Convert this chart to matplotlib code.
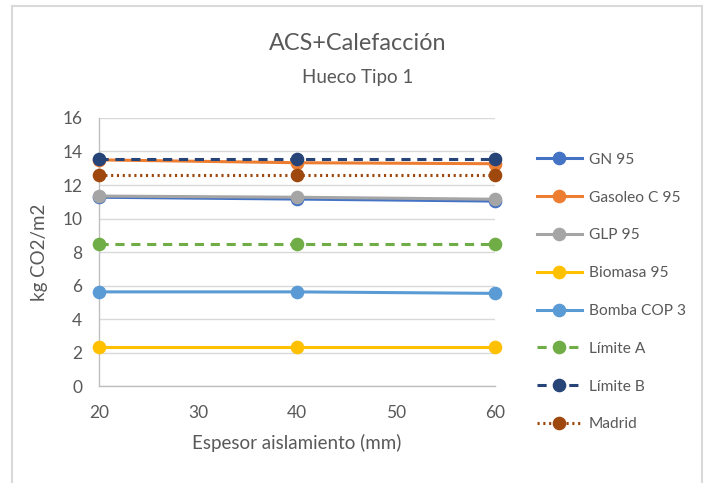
import matplotlib.pyplot as plt
from matplotlib.patches import Rectangle

# data
espesor = [20, 40, 60]
series_names = ["GN 95", "Gasoleo C 95", "GLP 95", "Biomasa 95", "Bomba COP 3",
                "Límite A", "Límite B", "Madrid"]
gn_95 = [11.27, 11.16, 11.04]
gasoleo_c_95 = [13.5, 13.33, 13.27]
glp_95 = [11.34, 11.27, 11.15]
biomasa_95 = [2.35, 2.35, 2.35]
bomba_cop_3 = [5.62, 5.62, 5.53]
limite_a = [8.5, 8.5, 8.5]
limite_b = [13.55, 13.55, 13.55]
madrid = [12.6, 12.6, 12.6]

values = [gn_95, gasoleo_c_95, glp_95, biomasa_95, bomba_cop_3, limite_a, limite_b, madrid]
colors = ["#4472C4", "#ED7D31", "#A5A5A5", "#FFC000", "#5B9BD5", "#70AD47", "#264478", "#9E480E"]
styles = ["-", "-", "-", "-", "-", (0, (3, 2.2)), (0, (3, 2.2)), (0, (0.7, 1.2))]

plt.rcParams['font.family'] = ['Lato', 'DejaVu Sans']
text_col = "#595959"

fig = plt.figure(figsize=(7.07, 4.83), dpi=100)
ax = fig.add_axes([0.140, 0.2008, 0.560, 0.5549])

for name, vals, col, ls in zip(series_names, values, colors, styles):
    ax.plot(espesor, vals, color=col, linestyle=ls, linewidth=2.2, marker='o',
            markersize=8.8, label=name, clip_on=False, zorder=3,
            dash_capstyle='butt')

ax.set_xlim(20, 60)
ax.set_ylim(0, 16)
ax.set_xticks([20, 30, 40, 50, 60])
ax.set_yticks(range(0, 17, 2))
ax.grid(axis='y', color="#D9D9D9", linewidth=1.0)
ax.set_axisbelow(True)
for s in ['top', 'right']:
    ax.spines[s].set_visible(False)
for s in ['left', 'bottom']:
    ax.spines[s].set_color("#BFBFBF")
    ax.spines[s].set_linewidth(1.0)
ax.tick_params(length=0, labelsize=12.5, labelcolor=text_col)
ax.tick_params(axis='y', pad=12)
ax.tick_params(axis='x', pad=14)

ax.set_xlabel("Espesor aislamiento (mm)", fontsize=13.5, color=text_col, labelpad=9)
ax.set_ylabel("kg CO2/m2", fontsize=13.5, color=text_col, labelpad=10)

fig.text(0.506, 1 - 44 / 483, "ACS+Calefacción", ha='center', va='center',
         fontsize=16.8, color=text_col)
fig.text(0.506, 1 - 77 / 483, "Hueco Tipo 1", ha='center', va='center',
         fontsize=13.5, color=text_col)

leg = ax.legend(loc='upper left', bbox_to_anchor=(1.09, 0.893), frameon=False,
                fontsize=11.2, labelcolor=text_col, handlelength=2.9,
                handletextpad=0.45, labelspacing=1.53, borderaxespad=0)

# light frame around the chart area
fig.patches.append(Rectangle((12 / 707, -0.02), 690 / 707, 1.02 - 6 / 483,
                             transform=fig.transFigure, fill=False,
                             edgecolor="#D9D9D9", linewidth=1.5))

fig.savefig("out.png", dpi=100)
